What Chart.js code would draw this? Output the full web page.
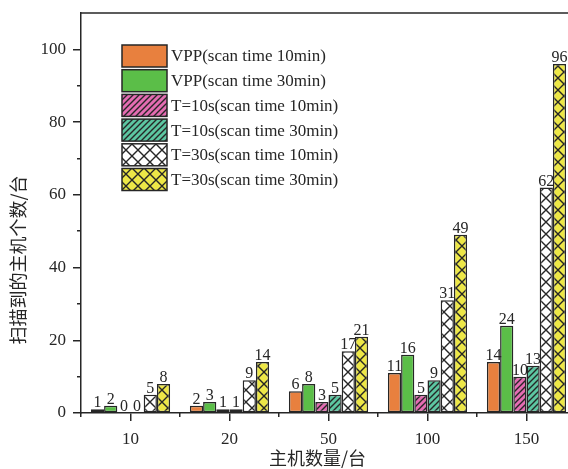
<!DOCTYPE html>
<html>
<head>
<meta charset="utf-8">
<script src="https://cdn.jsdelivr.net/npm/chart.js@4.4.1/dist/chart.umd.min.js"></script>
<style>
  html, body { margin: 0; padding: 0; background: #fff; overflow: hidden; }
  #wrap { width: 580px; height: 469px; }
</style>
</head>
<body>
<div id="wrap"><canvas id="c" width="580" height="469"></canvas></div>
<script>
// ---- data ----
const CATEGORIES = ['10', '20', '50', '100', '150'];
const SERIES_NAMES = [
  'VPP(scan time 10min)',
  'VPP(scan time 30min)',
  'T=10s(scan time 10min)',
  'T=10s(scan time 30min)',
  'T=30s(scan time 10min)',
  'T=30s(scan time 30min)'
];
const VPP_10 = [1, 2, 6, 11, 14];
const VPP_30 = [2, 3, 8, 16, 24];
const T10_10 = [0, 1, 3, 5, 10];
const T10_30 = [0, 1, 5, 9, 13];
const T30_10 = [5, 9, 17, 31, 62];
const T30_30 = [8, 14, 21, 49, 96];
const Y_MAJOR_TICKS = [0, 20, 40, 60, 80, 100];
const Y_MINOR_TICKS = [10, 30, 50, 70, 90];
const Y_MAX = 110;
const X_TITLE = '主机数量/台';
const Y_TITLE = '扫描到的主机个数/台';

// ---- styles ----
const SERIF = '"Liberation Serif", "Times New Roman", serif';
const CJK = '"Noto Sans CJK SC", sans-serif';
const INK = '#262626';

function makePattern(bg, kind) {
  const size = kind === 'diag' ? 6 : 12;
  const c = document.createElement('canvas');
  c.width = size; c.height = size;
  const g = c.getContext('2d');
  g.fillStyle = bg;
  g.fillRect(0, 0, size, size);
  g.strokeStyle = INK;
  g.lineWidth = 1.4;
  g.beginPath();
  if (kind === 'diag') {
    g.moveTo(-1, size + 1); g.lineTo(size + 1, -1);
    g.moveTo(-1, 1); g.lineTo(1, -1);
    g.moveTo(size - 1, size + 1); g.lineTo(size + 1, size - 1);
  } else {
    g.moveTo(0, 0); g.lineTo(size, size);
    g.moveTo(size, 0); g.lineTo(0, size);
  }
  g.stroke();
  return g.createPattern(c, 'repeat');
}

const FILLS = [
  '#E8803E',
  '#5BBE48',
  makePattern('#E46CB2', 'diag'),
  makePattern('#5CC6A1', 'diag'),
  makePattern('#FFFFFF', 'cross'),
  makePattern('#EDE747', 'cross')
];
const VALUES = [VPP_10, VPP_30, T10_10, T10_30, T30_10, T30_30];

const datasets = VALUES.map((vals, i) => ({
  label: SERIES_NAMES[i],
  data: vals,
  backgroundColor: FILLS[i],
  borderColor: INK,
  borderWidth: 1.5,
  borderSkipped: false,
  xAxisID: 'x',
  yAxisID: 'y',
  barPercentage: 1,
  categoryPercentage: 0.8
}));

const valueLabels = {
  id: 'valueLabels',
  afterDatasetsDraw(chart) {
    const ctx = chart.ctx;
    ctx.save();
    ctx.font = '16px ' + SERIF;
    ctx.fillStyle = INK;
    ctx.textAlign = 'center';
    ctx.textBaseline = 'alphabetic';
    chart.data.datasets.forEach((ds, di) => {
      const meta = chart.getDatasetMeta(di);
      meta.data.forEach((bar, j) => {
        ctx.fillText(String(ds.data[j]), bar.x, bar.y - 2);
      });
    });
    ctx.restore();
  }
};

const frameAndLegend = {
  id: 'frameAndLegend',
  afterDraw(chart) {
    const ctx = chart.ctx;
    const a = chart.chartArea;
    ctx.save();
    // top frame line
    ctx.strokeStyle = INK;
    ctx.lineWidth = 1.5;
    ctx.beginPath();
    ctx.moveTo(a.left, a.top);
    ctx.lineTo(a.right + 10, a.top);
    ctx.stroke();
    // legend
    const x0 = a.left + 41, y0 = a.top + 32, rowH = 24.7, bw = 45, bh = 22;
    ctx.font = '17px ' + SERIF;
    ctx.textAlign = 'left';
    ctx.textBaseline = 'middle';
    chart.data.datasets.forEach((ds, i) => {
      const y = y0 + i * rowH;
      ctx.fillStyle = ds.backgroundColor;
      ctx.fillRect(x0, y, bw, bh);
      ctx.strokeStyle = INK;
      ctx.lineWidth = 1.5;
      ctx.strokeRect(x0, y, bw, bh);
      ctx.fillStyle = INK;
      ctx.fillText(ds.label, x0 + bw + 4, y + bh / 2 + 1);
    });
    ctx.restore();
  }
};

function noPadY(s) { s.paddingTop = 0; s.paddingBottom = 0; }

new Chart(document.getElementById('c'), {
  type: 'bar',
  data: { labels: CATEGORIES, datasets },
  options: {
    responsive: false,
    animation: false,
    devicePixelRatio: 1,
    layout: { padding: { top: 13, right: 4, left: 0, bottom: 0 } },
    plugins: { legend: { display: false }, tooltip: { enabled: false } },
    scales: {
      x: {
        type: 'category',
        position: 'bottom',
        weight: 1,
        offset: true,
        grid: { offset: false, drawOnChartArea: false, drawTicks: true, tickLength: 8, color: INK, lineWidth: 1.5 },
        border: { display: true, color: INK, width: 1.5 },
        ticks: { color: INK, font: { family: SERIF, size: 17 }, padding: 8, maxRotation: 0 },
        title: {
          display: true,
          text: X_TITLE + '\u3000 ',
          color: INK,
          font: { family: CJK, size: 18 },
          padding: { top: 0, bottom: 0 }
        },
        afterFit(s) { s.height = 56; s.paddingLeft = 0; s.paddingRight = 0; }
      },
      xb: {
        type: 'category',
        position: 'bottom',
        weight: 0,
        offset: true,
        grid: { offset: true, drawOnChartArea: false, drawTicks: true, tickLength: 4, color: INK, lineWidth: 1.5 },
        border: { display: false },
        ticks: { display: false },
        afterFit(s) { s.height = 0; s.paddingLeft = 0; s.paddingRight = 0; }
      },
      y: {
        type: 'linear',
        position: 'left',
        weight: 1,
        min: 0,
        max: Y_MAX,
        afterBuildTicks(s) { s.ticks = Y_MAJOR_TICKS.map(v => ({ value: v })); },
        grid: { drawOnChartArea: false, drawTicks: true, tickLength: 8, color: INK, lineWidth: 1.5 },
        border: { display: true, color: INK, width: 1.5 },
        ticks: { color: INK, font: { family: SERIF, size: 17 }, padding: 7 },
        title: {
          display: true,
          text: Y_TITLE + '\u3000\u3000\u3000\u3000\u3000 ',
          color: INK,
          font: { family: CJK, size: 18 },
          padding: { top: 7, bottom: 0 }
        },
        afterFit(s) { s.width = 81; noPadY(s); }
      },
      yMinor: {
        type: 'linear',
        position: 'left',
        weight: 0,
        min: 0,
        max: Y_MAX,
        afterBuildTicks(s) { s.ticks = Y_MINOR_TICKS.map(v => ({ value: v })); },
        grid: { drawOnChartArea: false, drawTicks: true, tickLength: 4, color: INK, lineWidth: 1.5 },
        border: { display: false },
        ticks: { display: false },
        afterFit(s) { s.width = 0; noPadY(s); }
      }
    }
  },
  plugins: [valueLabels, frameAndLegend]
});
</script>
</body>
</html>
